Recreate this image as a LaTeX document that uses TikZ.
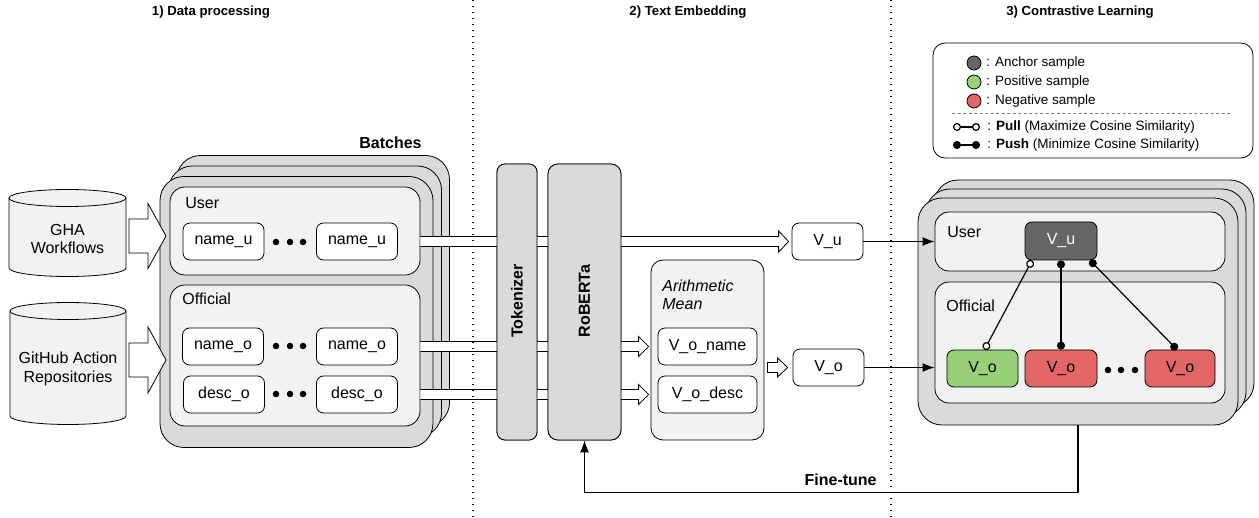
\documentclass[tikz,border=0pt]{standalone}
\usepackage{fontspec}
\setmainfont{Liberation Sans}
\usetikzlibrary{arrows.meta,calc}
\definecolor{stackgray}{HTML}{DADADA}
\definecolor{panelgray}{HTML}{F2F2F2}
\definecolor{anchorc}{HTML}{666666}
\definecolor{posc}{HTML}{97D077}
\definecolor{negc}{HTML}{E36666}
\newcommand\fs{\fontsize{16}{18.5}\selectfont}
% open-ended hollow band arrow: start, tip, half body, half head, head length
\newcommand\bandarr[5]{\draw[fill=white] let \p1=(#1), \p2=(#2) in (\x1,\y2+#3) -- (\x2-#5,\y2+#3) -- (\x2-#5,\y2+#4) -- (\x2,\y2) -- (\x2-#5,\y2-#4) -- (\x2-#5,\y2-#3) -- (\x1,\y2-#3);}
% closed block arrow
\newcommand\blockarr[5]{\draw[fill=white] let \p1=(#1), \p2=(#2) in (\x1,\y2+#3) -- (\x2-#5,\y2+#3) -- (\x2-#5,\y2+#4) -- (\x2,\y2) -- (\x2-#5,\y2-#4) -- (\x2-#5,\y2-#3) -- (\x1,\y2-#3) -- cycle;}
\begin{document}
\begin{tikzpicture}[x=1pt,y=-1pt,line width=0.8pt,
  title/.style={font=\fontsize{13.2}{15}\selectfont\bfseries, inner sep=0pt},
  stackbox/.style={draw, fill=stackgray, rounded corners=24pt, minimum width=273pt, minimum height=271pt, inner sep=0pt},
  rstackbox/.style={draw, fill=stackgray, rounded corners=24pt, minimum width=320pt, minimum height=227pt, inner sep=0pt},
  panel/.style={draw, fill=panelgray, rounded corners=15pt, inner sep=0pt},
  item/.style={draw, fill=white, rounded corners=7pt, minimum width=81pt, minimum height=37pt, inner sep=0pt, font=\fs},
  vbox/.style={draw, fill=white, rounded corners=7pt, minimum width=71pt, minimum height=37pt, inner sep=0pt, font=\fs},
  lbl/.style={font=\fs, inner sep=0pt, anchor=west},
  model/.style={draw, fill=stackgray, rounded corners=10pt, inner sep=0pt},
  cylfill/.style={draw, fill=panelgray},
  dotline/.style={line width=1.4pt, dash pattern=on 1.4pt off 4.6pt},
  conn/.style={line width=1.2pt, -{Latex[length=12pt,width=9pt]}},
  pullline/.style={line width=1.2pt, {Circle[open,length=8pt,fill=white]}-{Circle[open,length=8pt,fill=white]}},
  pushline/.style={line width=1.2pt, {Circle[length=8pt]}-{Circle[length=8pt]}},
  legtext/.style={font=\fontsize{13.5}{16}\selectfont, inner sep=0pt, anchor=west},
  dot/.style={circle, fill=black, inner sep=0pt, minimum size=6.5pt}
]
\useasboundingbox (0,0) rectangle (1259,518);

% titles
\node[title] (t1) at (211,12) {1) Data processing};
\node[title] (t2) at (688,12) {2) Text Embedding};
\node[title] (t3) at (1080,12) {3) Contrastive Learning};

% cylinders
\filldraw[cylfill] (9,198) -- (9,268) arc[start angle=180,end angle=0,x radius=58.5,y radius=8.5] -- (126,198) arc[start angle=0,end angle=-180,x radius=58.5,y radius=8.5] -- cycle;
\draw (9,198) arc[start angle=180,end angle=0,x radius=58.5,y radius=8.5];
\node[font=\fs, align=center, inner sep=0pt] (gha) at (67.5,239) {GHA\\Workflows};
\filldraw[cylfill] (10,311) -- (10,416) arc[start angle=180,end angle=0,x radius=58,y radius=8.5] -- (126,311) arc[start angle=0,end angle=-180,x radius=58,y radius=8.5] -- cycle;
\draw (10,311) arc[start angle=180,end angle=0,x radius=58,y radius=8.5];
\node[font=\fs, align=center, inner sep=0pt] (repo) at (68,369) {GitHub Action\\Repositories};

% batches
\node[font=\fs\bfseries, inner sep=0pt, anchor=east] (batches) at (422,143) {Batches};
\node[stackbox] (bback) at (313,291) {};
\node[stackbox] (bmid) at (305,301.5) {};
\node[stackbox] (bfront) at (296.5,312) {};
\node[panel, minimum width=250pt, minimum height=88pt] (buser) at (295,231) {};
\node[panel, minimum width=250pt, minimum height=141pt] (boff) at (295,355.5) {};
\node[lbl] (buserl) at (185,203) {User};
\node[lbl] (boffl) at (182,299) {Official};
\node[item] (nu1) at (223.5,241.5) {name\_u};
\node[item] (nu2) at (357,241.5) {name\_u};
\node[item] (no1) at (223,346.5) {name\_o};
\node[item] (no2) at (357,346.5) {name\_o};
\node[item] (do1) at (224,394.5) {desc\_o};
\node[item] (do2) at (357,394.5) {desc\_o};
\foreach \yy/\nm in {242/a,346/b,394/c}{
  \node[dot] (d1\nm) at (276,\yy) {};
  \node[dot] (d2\nm) at (290,\yy) {};
  \node[dot] (d3\nm) at (303,\yy) {};
}

% block arrows from sources
\coordinate (ghaR) at (129,236);
\coordinate (ghaT) at (166,236);
\coordinate (repR) at (129,360);
\coordinate (repT) at (166,360);
\blockarr{ghaR}{ghaT}{17pt}{32.5pt}{18pt}
\blockarr{repR}{repT}{17pt}{33pt}{18pt}

% embedding stage
\node[model, minimum width=40pt, minimum height=276pt, rounded corners=8pt] (tok) at (517,302) {};
\node[model, minimum width=73pt, minimum height=276pt] (rob) at (584.5,302) {};
\node[panel, minimum width=113pt, minimum height=180pt, rounded corners=12pt] (arith) at (707.5,350) {};
\node[vbox, minimum width=99pt] (vname) at (707.5,346.5) {V\_o\_name};
\node[vbox, minimum width=99pt] (vdesc) at (707.5,394.5) {V\_o\_desc};
\node[vbox] (vu) at (827.5,241.5) {V\_u};
\node[vbox] (vo) at (828.5,367.5) {V\_o};

% hollow bands (drawn over batches, under tokenizer / RoBERTa)
\coordinate (tipu) at ($(vu.west)+(-3,0)$);
\coordinate (tipn) at ($(arith.west|-vname.west)+(-2,0)$);
\coordinate (tipd) at ($(arith.west|-vdesc.west)+(-2,0)$);
\bandarr{buser.east}{tipu}{5pt}{10.5pt}{10pt}
\bandarr{boff.east}{tipn}{5pt}{10pt}{10pt}
\bandarr{boff.east}{tipd}{5pt}{10pt}{10pt}
% redraw models on top of bands
\node[model, minimum width=40pt, minimum height=276pt, rounded corners=8pt] (tok2) at (tok) {};
\node[model, minimum width=73pt, minimum height=276pt] (rob2) at (rob) {};
\node[font=\fs\bfseries, rotate=90, inner sep=0pt] (tokl) at (517,301) {Tokenizer};
\node[font=\fs\bfseries, rotate=90, inner sep=0pt] (robl) at (584.5,301) {RoBERTa};
\node[font=\fs\itshape, align=left, anchor=west, inner sep=0pt] (arithl) at (662,295) {Arithmetic\\Mean};

\coordinate (arS) at ($(arith.east|-vo.west)+(3,0)$);
\coordinate (arT) at ($(vo.west)+(-5,0)$);
\blockarr{arS}{arT}{5pt}{9.5pt}{10pt}

% contrastive learning stack
\node[rstackbox] (rback) at (1094,293.5) {};
\node[rstackbox] (rmid) at (1086,302.5) {};
\node[rstackbox] (rfront) at (1078,311.5) {};
\node[panel, minimum width=290pt, minimum height=59pt, rounded corners=14pt] (rus) at (1080,241.5) {};
\node[panel, minimum width=290pt, minimum height=121pt, rounded corners=14pt] (roff) at (1080,342.5) {};
\node[lbl] (rusl) at (947,232) {User};
\node[lbl] (roffl) at (946,306) {Official};
\node[vbox, fill=anchorc, text=white, minimum width=72pt, minimum height=38pt] (va) at (1061,241) {V\_u};
\node[vbox, fill=posc] (pos) at (982.5,368.5) {V\_o};
\node[vbox, fill=negc, minimum width=72pt] (neg1) at (1061,368.5) {V\_o};
\node[vbox, fill=negc, minimum width=70pt] (neg2) at (1180,368.5) {V\_o};
\node[dot] (rd1) at (1108,370) {};
\node[dot] (rd2) at (1121,370) {};
\node[dot] (rd3) at (1135,370) {};
\draw[pullline] ($(va.south)+(-29,0)$) -- ($(pos.north)+(2,0)$);
\draw[pushline] (va.south) -- (neg1.north);
\draw[pushline] ($(va.south)+(29,0)$) -- ($(neg2.north)+(-3,0)$);

% connectors into stack
\draw[conn] (vu.east) -- (rus.west|-vu.east);
\draw[conn] (vo.east) -- (roff.west|-vo.east);

% fine-tune loop
\draw[conn] (rfront.south) |- ($(rob.south)+(0,52)$) -- (rob.south);
\node[font=\fs\bfseries, inner sep=0pt, anchor=east] (ft) at (877,480) {Fine-tune};

% legend
\node[draw, fill=white, rounded corners=12pt, minimum width=320pt, minimum height=115pt, inner sep=0pt] (leg) at (1093,100.5) {};
\node[circle, draw, fill=anchorc, minimum size=14pt, inner sep=0pt] (la) at (974,63) {};
\node[circle, draw, fill=posc, minimum size=14pt, inner sep=0pt] (lp) at (974,82) {};
\node[circle, draw, fill=negc, minimum size=14pt, inner sep=0pt] (ln) at (974,101) {};
\node[legtext] (lat) at (986,63) {: Anchor sample};
\node[legtext] (lpt) at (986,82) {: Positive sample};
\node[legtext] (lnt) at (986,101) {: Negative sample};
\coordinate (dashA) at (952,113);
\coordinate (dashB) at (1230,113);
\draw[gray, line width=0.8pt, dash pattern=on 3pt off 2.5pt] (dashA) -- (dashB);
\coordinate (pullA) at (953,127);
\coordinate (pullB) at (980,127);
\coordinate (pushA) at (953,145);
\coordinate (pushB) at (980,145);
\draw[pullline] (pullA) -- (pullB);
\draw[pushline] (pushA) -- (pushB);
\node[legtext] (lpull) at (987,127) {: \textbf{Pull} (Maximize Cosine Similarity)};
\node[legtext] (lpush) at (987,145) {: \textbf{Push} (Minimize Cosine Similarity)};

% section separators
\draw[dotline] (473,0) -- (473,518);
\draw[dotline] (891,0) -- (891,518);
\end{tikzpicture}
\end{document}
